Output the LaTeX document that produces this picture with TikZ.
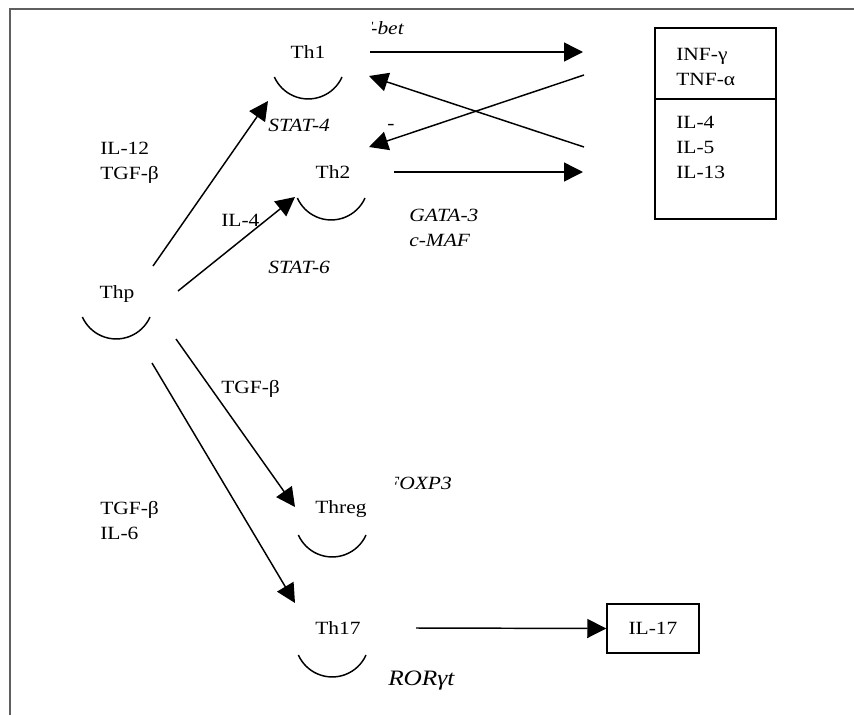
\documentclass[tikz,border=0pt]{standalone}
\usepackage{fontspec}
\setmainfont{Liberation Serif}[FakeStretch=1.15]
\usetikzlibrary{arrows.meta}
\definecolor{framegray}{HTML}{5F5F5F}
\begin{document}
\begin{tikzpicture}[x=0.75pt,y=-0.75pt,
  txt/.style={inner sep=0pt, align=left, font=\fontsize{14pt}{18.75pt}\selectfont},
  itxt/.style={inner sep=0pt, align=left, font=\fontsize{14pt}{18.75pt}\selectfont\itshape},
  cellarc/.style={line width=1.1pt},
  flow/.style={line width=1.1pt, -{Triangle[length=14.25pt,width=14.25pt]}},
  box/.style={draw, line width=1.1pt, inner sep=0pt}
]
\useasboundingbox (0,0) rectangle (854,715);

% outer frame (left and top edges only)
\draw[framegray, line width=1.9pt] (10,715) -- (10,9) -- (854,9);

% ---- cells: centre of each cell body and its label
\coordinate (c-th1)   at (308,62);
\coordinate (c-th2)   at (331,183);
\coordinate (c-thp)   at (116,302);
\coordinate (c-threg) at (332,520);
\coordinate (c-th17)  at (332,640);

\foreach \c in {th1,th2,thp,threg,th17}{
  \draw[cellarc] ([shift={(34,15)}]c-\c) arc[start angle=24, end angle=156, radius=37];
}

\node[txt, anchor=base] (th1)   at (308,58)  {Th1};
\node[txt, anchor=base] (th2)   at (333,178) {Th2};
\node[txt, anchor=base] (thp)   at (117,298) {Thp};
\node[txt, anchor=base] (threg) at (341,513) {Threg};
\node[txt, anchor=base] (th17)  at (338,634) {Th17};

% ---- cytokine boxes (multi-line nodes are placed by their last baseline)
\node[box, minimum width=121*0.75pt, minimum height=191*0.75pt] (cyto) at (715.5,123.5) {};
\draw[line width=1.1pt] (cyto.west |- 0,99) -- (cyto.east |- 0,99);
\node[txt, anchor=base west] (th1cyt) at (676,85)  {INF-γ\\TNF-α};
\node[txt, anchor=base west] (th2cyt) at (676,178) {IL-4\\IL-5\\IL-13};

\node[box, minimum width=92*0.75pt, minimum height=49*0.75pt] (il17) at (653,628.5) {};
\node[txt, anchor=base] (il17t) at (653,634) {IL-17};

% ---- cytokine labels on the differentiation arrows
\node[txt, anchor=base west] (l-th1)   at (100,179) {IL-12\\TGF-β};
\node[txt, anchor=base west] (l-th2)   at (221,226) {IL-4};
\node[txt, anchor=base west] (l-threg) at (221,393) {TGF-β};
\node[txt, anchor=base west] (l-th17)  at (100,539) {TGF-β\\IL-6};

% ---- transcription factors
\node[itxt, anchor=base west] (stat4) at (268,131) {STAT-4};
\node[itxt, anchor=base west] (stat6) at (268,273) {STAT-6};
\node[itxt, anchor=base west] (gata)  at (409,246) {GATA-3\\c-MAF};
\node[itxt, anchor=base] (dash) at (391,129) {-};
\node[anchor=base west, inner sep=0pt, font=\fontsize{16.5pt}{20pt}\selectfont\itshape] (ror) at (388,685) {RORγt};
\begin{scope}
  \clip (372,12) rectangle (460,45);
  \node[itxt, anchor=base east] (tbet) at (404,34) {T-bet};
\end{scope}
\begin{scope}
  \clip (395,465) rectangle (470,500);
  \node[itxt, anchor=base east] (foxp3) at (452,489) {FOXP3};
\end{scope}

% ---- arrow end points
\coordinate (thp-a) at (153,266);  \coordinate (th1-in)   at (268,101);
\coordinate (thp-b) at (178,291);  \coordinate (th2-in)   at (295,197);
\coordinate (thp-c) at (176,339);  \coordinate (threg-in) at (295,507);
\coordinate (thp-d) at (152,363);  \coordinate (th17-in)  at (295,603);
\coordinate (th1-out) at (370,52);  \coordinate (cyt1-in) at (583,52);
\coordinate (th2-out) at (394,172); \coordinate (cyt2-in) at (583,172);
\coordinate (cyt2-out) at (584,147); \coordinate (th1-back) at (369,76);
\coordinate (cyt1-out) at (584,75);  \coordinate (th2-back) at (369,147);
\coordinate (th17-out) at (416,628);

% ---- arrows
\draw[flow] (thp-a) -- (th1-in);
\draw[flow] (thp-b) -- (th2-in);
\draw[flow] (thp-c) -- (threg-in);
\draw[flow] (thp-d) -- (th17-in);
\draw[flow] (th1-out) -- (cyt1-in);
\draw[flow] (th2-out) -- (cyt2-in);
\draw[flow] (cyt2-out) -- (th1-back);
\draw[flow] (cyt1-out) -- (th2-back);
\draw[flow] (th17-out) -- (il17.west);
\end{tikzpicture}
\end{document}
